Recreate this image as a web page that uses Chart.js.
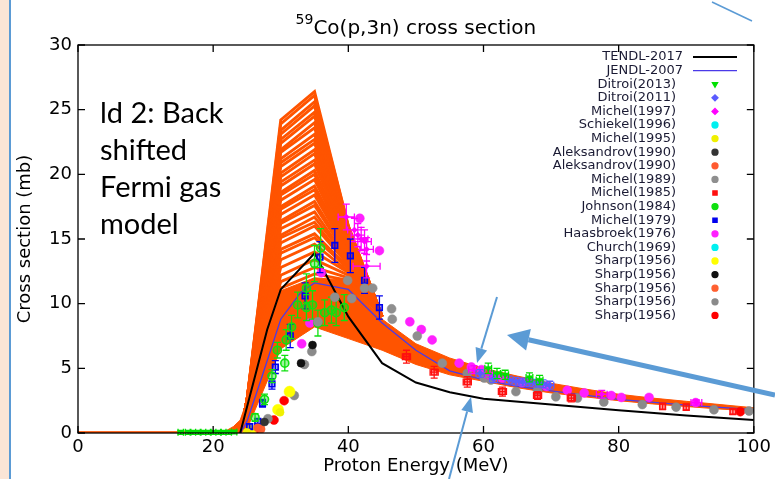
<!DOCTYPE html>
<html>
<head>
<meta charset="utf-8">
<script src="https://cdn.jsdelivr.net/npm/chart.js@4.4.1/dist/chart.umd.min.js"></script>
<style>
html, body { margin: 0; padding: 0; background: #fff; }
#chart-co { display: block; }
</style>
</head>
<body>
<canvas id="chart-co" width="775" height="479"></canvas>
<script>
// Colors -------------------------------------
const color_model = '#ff5400'
const color_tendl = '#000000'
const color_jendl = '#4a3ae8'
const color_arrow = '#5b9bd5'
const color_strip = '#fbe5d6'
const font_axis = '"DejaVu Sans", sans-serif'

// Model band (ld 2 variations) -------------------------------------
// energies (MeV) and lower / upper edge of the dense part (mb)
const energyGrid = [0, 20, 22, 23, 24, 25, 30, 35, 40, 45, 50, 55, 60, 65, 70, 75, 80, 85, 90, 95, 100]
const bandLow = [0, 0, 0, 0, 0, 0.3, 6.5, 8.2, 7.3, 6.4, 5.3, 4.5, 4.0, 3.5, 3.1, 2.8, 2.5, 2.25, 2.05, 1.85, 1.7]
const bandHigh = [0.1, 0.1, 0.2, 0.5, 1.0, 2.5, 11.0, 12.0, 11.8, 8.8, 6.9, 5.8, 5.0, 4.4, 3.85, 3.4, 3.0, 2.7, 2.45, 2.2, 1.95]

// single runs that stick out of the band around the peak
const spikeHead = [[24, 0], [25, 2.5]]
const spikeTail = [[45, 9.0]]
const spikeAt30 = [11.2, 11.7, 12.2, 12.8, 13.4, 13.9, 14.2, 14.7, 15.1, 15.3, 15.8, 16.2, 16.4, 16.9, 17.3, 17.5, 18.0, 18.4, 18.6, 19.1, 19.4, 19.8, 20.1, 20.6, 20.9, 21.2, 21.7, 21.9, 22.4, 22.7, 23.1, 23.4, 23.9, 24.2]
const spikeAt35 = [12.3, 12.8, 13.4, 14.0, 14.6, 15.1, 15.4, 16.0, 16.3, 16.7, 17.1, 17.6, 17.9, 18.4, 18.8, 19.1, 19.6, 20.0, 20.3, 20.8, 21.1, 21.6, 21.9, 22.4, 22.7, 23.1, 23.6, 24.0, 24.5, 24.8, 25.3, 25.6, 26.1, 26.4]
const spikeAt40 = [11.8, 12.0, 12.2, 12.4, 12.5, 12.7, 12.8, 13.0, 13.1, 13.3, 13.4, 13.6, 13.7, 13.9, 14.0, 14.2, 14.3, 14.5, 14.6, 14.8, 14.9, 15.0, 15.2, 15.3, 15.4, 15.5, 15.6, 15.7, 15.8, 15.85, 15.9, 15.95, 16.0, 16.0]

// Evaluated libraries -------------------------------------
const tendlE = [24, 28, 30, 35, 40, 45, 50, 55, 60, 70, 80, 90, 100]
const tendlXS = [0, 8.0, 11.1, 13.9, 9.0, 5.4, 3.9, 3.15, 2.65, 2.2, 1.75, 1.35, 1.0]
const jendlE = [24, 25, 27, 30, 33, 35, 40, 45, 50, 55, 60, 65, 70, 80, 90, 100]
const jendlXS = [0, 0.9, 4.0, 8.8, 10.9, 11.6, 11.1, 8.5, 6.4, 4.8, 4.1, 3.6, 3.25, 2.6, 2.15, 1.8]

// Measurements: [E (MeV), sigma (mb), d sigma, d E] -------------------------------------
const ditroi2013 = [[15.2, 0.05, 0.15, 0.4], [16.3, 0.05, 0.15, 0.4], [17.0, 0.05, 0.15, 0.4], [17.8, 0.05, 0.15, 0.4],
    [18.5, 0.05, 0.15, 0.4], [19.3, 0.05, 0.15, 0.4], [20.0, 0.05, 0.15, 0.4], [20.8, 0.05, 0.15, 0.4],
    [21.5, 0.05, 0.15, 0.4], [22.3, 0.05, 0.15, 0.4], [23.1, 0.08, 0.15, 0.4],
    [60.7, 5.0, 0.4, 0.5], [62.0, 4.6, 0.4, 0.5], [63.2, 4.5, 0.35, 0.5], [66.8, 4.3, 0.35, 0.5], [68.3, 4.1, 0.35, 0.5]]
const ditroi2011 = [[59.5, 4.6, 0.3, 0.6], [61.5, 4.2, 0.3, 0.6], [63.8, 4.1, 0.3, 0.6], [64.8, 4.0, 0.3, 0.6],
    [65.8, 3.95, 0.3, 0.6], [66.8, 3.9, 0.3, 0.6], [67.8, 3.85, 0.3, 0.6], [68.8, 3.8, 0.3, 0.6], [69.8, 3.7, 0.3, 0.6]]
const michel1997 = [[39.7, 16.7, 1.0, 1.2], [40.9, 15.7, 0.9, 1.0], [41.4, 15.3, 0.9, 1.0], [41.9, 15.0, 0.9, 1.0],
    [42.4, 14.8, 0.9, 1.0], [42.7, 14.2, 0.9, 1.0], [42.7, 12.9, 0.9, 2.0],
    [58.6, 4.9, 0.3, 0.8], [61.0, 4.5, 0.3, 0.8], [77.5, 3.0, 0.3, 0.8], [91.5, 2.35, 0.2, 0.8]]
const schiekel1996 = []
const michel1995 = [[25.0, 0.05], [29.9, 1.6]]
const aleksandrov1990a = [[27.6, 0.85]]
const aleksandrov1990b = [[26.6, 0.4]]
const michel1989 = [[35.5, 8.6], [38.0, 10.5], [39.9, 11.8], [40.5, 10.4], [42.4, 11.2], [43.6, 11.2],
    [46.4, 9.6], [46.5, 8.8], [50.2, 7.5], [53.9, 5.4]]
const michel1985 = [[48.6, 5.9, 0.5, 0.6], [52.7, 4.7, 0.45, 0.6], [57.6, 3.95, 0.4, 0.6], [62.8, 3.2, 0.35, 0.6],
    [68.0, 2.9, 0.3, 0.6], [73.0, 2.7, 0.3, 0.6], [86.5, 2.05, 0.25, 0], [90.0, 2.0, 0.25, 0], [96.9, 1.65, 0.2, 0]]
const johnson1984 = [[26.2, 1.2, 0.3], [27.6, 2.6, 0.4], [28.7, 4.4, 0.5], [29.5, 6.4, 0.6], [30.6, 5.4, 0.6],
    [30.8, 7.2, 0.8], [31.6, 8.2, 0.9], [32.5, 9.9, 1.0], [33.8, 9.7, 1.0], [33.8, 11.2, 1.1], [34.7, 9.9, 1.1],
    [35.0, 13.1, 1.4], [35.5, 8.5, 1.0], [35.9, 14.3, 1.5], [36.5, 9.3, 1.0], [37.5, 9.5, 1.0], [38.2, 9.3, 1.0], [39.4, 9.7, 1.0]]
const michel1979 = [[25.4, 0.5, 0.2], [26.6, 0.9, 0.2], [27.3, 2.3, 0.3], [28.7, 3.8, 0.4], [29.2, 5.1, 0.5],
    [31.4, 7.5, 0.9], [33.6, 10.6, 1.0], [35.8, 13.6, 1.2], [38.0, 14.5, 1.3], [40.3, 13.7, 1.3], [42.4, 11.8, 1.0], [44.6, 9.7, 0.9]]
const haasbroek1976 = [[33.1, 6.9], [34.3, 8.5], [36.0, 12.4], [41.7, 16.6], [44.6, 14.1], [49.1, 8.6], [50.8, 8.0],
    [52.4, 7.2], [56.4, 5.4], [58.2, 5.1], [59.7, 4.9], [61.6, 4.4], [62.8, 4.25], [65.7, 3.9], [69.3, 3.6],
    [72.4, 3.3], [74.9, 3.1], [78.9, 2.9], [80.4, 2.75], [84.5, 2.75], [91.4, 2.35]]
const church1969 = []
const sharpYellow = [[25.6, 0.2], [29.6, 1.8], [31.3, 3.2]]
const sharpBlack = [[29.6, 1.8], [31.3, 3.2], [33.0, 5.4], [34.7, 6.8]]
const sharpOrange = [[27.1, 0.3]]
const sharpGray = [[28.1, 1.1], [32.0, 2.9], [33.5, 5.3], [34.6, 6.3], [57.6, 4.6], [60.1, 4.25], [61.1, 4.1],
    [64.8, 3.2], [68.0, 3.3], [70.7, 2.8], [73.9, 2.7], [77.8, 2.4], [83.5, 2.2], [88.5, 2.0], [94.1, 1.8], [99.3, 1.7]]
const sharpRed = [[25.5, 0.1], [26.6, 0.35], [29.0, 1.0], [30.5, 2.5], [98.0, 1.65]]

// Helpers -------------------------------------
function pairs(xs, ys) {
    return xs.map((x, i) => ({x: x, y: ys[i]}))
}

function rows(list) {
    return list.map(r => ({x: r[0], y: r[1], dy: r[2] || 0, dx: r[3] || 0}))
}

function lineSet(label, data, color, width, order) {
    return {
        label: label, data: data, showLine: true, borderColor: color, backgroundColor: color,
        borderWidth: width, pointRadius: 0, tension: 0, fill: false, order: order, inLegend: !!label,
    }
}

// legend order: label, rows, color, point style, radius, rotation, error bars
const experiments = [
    ['Ditroi(2013)', ditroi2013, '#00e000', 'triangle', 3.5, 180, true],
    ['Ditroi(2011)', ditroi2011, '#5b5bff', 'rectRot', 3.5, 0, true],
    ['Michel(1997)', michel1997, '#ff00ff', 'rectRot', 3, 0, true],
    ['Schiekel(1996)', schiekel1996, '#00f0f0', 'circle', 4, 0, false],
    ['Michel(1995)', michel1995, '#f0f000', 'circle', 4, 0, false],
    ['Aleksandrov(1990)', aleksandrov1990a, '#333333', 'circle', 4, 0, false],
    ['Aleksandrov(1990)', aleksandrov1990b, '#ff5a30', 'circle', 4, 0, false],
    ['Michel(1989)', michel1989, '#8f8f8f', 'circle', 4.5, 0, false],
    ['Michel(1985)', michel1985, '#ff1010', 'rect', 4, 0, true],
    ['Johnson(1984)', johnson1984, '#10e010', 'circle', 4, 0, true],
    ['Michel(1979)', michel1979, '#0000ee', 'rect', 4, 0, true],
    ['Haasbroek(1976)', haasbroek1976, '#ff20ff', 'circle', 4.5, 0, false],
    ['Church(1969)', church1969, '#00f0f0', 'circle', 4, 0, false],
    ['Sharp(1956)', sharpYellow, '#ffff00', 'circle', 5.5, 0, false],
    ['Sharp(1956)', sharpBlack, '#111111', 'circle', 4, 0, false],
    ['Sharp(1956)', sharpOrange, '#ff6030', 'circle', 4, 0, false],
    ['Sharp(1956)', sharpGray, '#8a8a8a', 'circle', 4.5, 0, false],
    ['Sharp(1956)', sharpRed, '#ff0000', 'circle', 4.5, 0, false],
]

// Datasets -------------------------------------
const datasets = []
datasets.push(lineSet('TENDL-2017', pairs(tendlE, tendlXS), color_tendl, 2, 1))
datasets.push(lineSet('JENDL-2007', pairs(jendlE, jendlXS), color_jendl, 1.3, 1))

experiments.forEach(e => {
    const open = e[3] == 'rect' || e[1] == johnson1984
    datasets.push({
        label: e[0], data: rows(e[1]), showLine: false,
        pointStyle: e[3], pointRadius: e[4], rotation: e[5],
        borderColor: e[2], backgroundColor: open ? e[2] + '66' : e[2],
        borderWidth: open ? 1.6 : 0.5, errorBars: e[6], order: 0, inLegend: true,
    })
})

// band: lower edge, then upper edge filled down to it
const lowIndex = datasets.length
datasets.push(lineSet('', pairs(energyGrid, bandLow), color_model, 1, 3))
const upper = lineSet('', pairs(energyGrid, bandHigh), color_model, 1, 3)
upper.fill = lowIndex
datasets.push(upper)

spikeAt30.forEach((v, i) => {
    const pts = spikeHead.concat([[30, v], [35, spikeAt35[i]], [40, spikeAt40[i]]], spikeTail)
    datasets.push(lineSet('', pts.map(p => ({x: p[0], y: p[1]})), color_model, 2.9, 2))
})

// Plugins -------------------------------------
const backdrop = {
    id: 'backdrop',
    beforeDraw(chart) {
        const ctx = chart.ctx
        ctx.save()
        ctx.fillStyle = '#ffffff'
        ctx.fillRect(0, 0, chart.width, chart.height)
        ctx.fillStyle = color_strip
        ctx.fillRect(0, 0, 9, chart.height)
        ctx.fillStyle = color_arrow
        ctx.fillRect(9, 0, 2, chart.height)
        ctx.restore()
    }
}

// vertical / horizontal error bars with caps, under the markers
const errorBars = {
    id: 'errorBars',
    beforeDatasetDraw(chart, args) {
        const ds = chart.data.datasets[args.index]
        if (!ds.errorBars) return
        const ctx = chart.ctx
        const sx = chart.scales.x, sy = chart.scales.y
        const cap = 3.5
        ctx.save()
        ctx.strokeStyle = ds.borderColor
        ctx.lineWidth = 1.3
        ctx.beginPath()
        ds.data.forEach(p => {
            const px = sx.getPixelForValue(p.x), py = sy.getPixelForValue(p.y)
            if (p.dy) {
                const t = sy.getPixelForValue(p.y + p.dy), b = sy.getPixelForValue(p.y - p.dy)
                ctx.moveTo(px, t); ctx.lineTo(px, b)
                ctx.moveTo(px - cap, t); ctx.lineTo(px + cap, t)
                ctx.moveTo(px - cap, b); ctx.lineTo(px + cap, b)
            }
            if (p.dx) {
                const l = sx.getPixelForValue(p.x - p.dx), r = sx.getPixelForValue(p.x + p.dx)
                ctx.moveTo(l, py); ctx.lineTo(r, py)
                ctx.moveTo(l, py - cap); ctx.lineTo(l, py + cap)
                ctx.moveTo(r, py - cap); ctx.lineTo(r, py + cap)
            }
        })
        ctx.stroke()
        ctx.restore()
    }
}

// frame with inward ticks on all four sides
const frameTicks = {
    id: 'frameTicks',
    afterDatasetsDraw(chart) {
        const ctx = chart.ctx, a = chart.chartArea
        const sx = chart.scales.x, sy = chart.scales.y
        const len = 7
        ctx.save()
        ctx.strokeStyle = '#000'
        ctx.lineWidth = 1.3
        ctx.strokeRect(a.left, a.top, a.right - a.left, a.bottom - a.top)
        ctx.beginPath()
        sx.ticks.forEach(t => {
            const px = sx.getPixelForValue(t.value)
            ctx.moveTo(px, a.bottom); ctx.lineTo(px, a.bottom - len)
            ctx.moveTo(px, a.top); ctx.lineTo(px, a.top + len)
        })
        sy.ticks.forEach(t => {
            const py = sy.getPixelForValue(t.value)
            ctx.moveTo(a.left, py); ctx.lineTo(a.left + len, py)
            ctx.moveTo(a.right, py); ctx.lineTo(a.right - len, py)
        })
        ctx.stroke()
        ctx.restore()
    }
}

function arrow(ctx, x1, y1, x2, y2, width, headLen, headHalf) {
    const ang = Math.atan2(y2 - y1, x2 - x1)
    const bx = x2 - Math.cos(ang) * headLen, by = y2 - Math.sin(ang) * headLen
    ctx.lineWidth = width
    ctx.beginPath()
    ctx.moveTo(x1, y1)
    ctx.lineTo(bx, by)
    ctx.stroke()
    if (headLen > 0) {
        ctx.beginPath()
        ctx.moveTo(x2, y2)
        ctx.lineTo(bx + Math.sin(ang) * headHalf, by - Math.cos(ang) * headHalf)
        ctx.lineTo(bx - Math.sin(ang) * headHalf, by + Math.cos(ang) * headHalf)
        ctx.closePath()
        ctx.fill()
    }
}

// titles, key, note and callout arrows
const annotations = {
    id: 'annotations',
    afterDraw(chart) {
        const ctx = chart.ctx, a = chart.chartArea
        const cx = (a.left + a.right) / 2
        ctx.save()
        ctx.fillStyle = '#000'

        // title with the mass number as superscript
        ctx.font = '14px ' + font_axis
        const sup = '59'
        const wSup = ctx.measureText(sup).width
        ctx.font = '20px ' + font_axis
        const main = 'Co(p,3n) cross section'
        const wMain = ctx.measureText(main).width
        const x0 = cx - (wSup + wMain) / 2
        ctx.textAlign = 'left'
        ctx.textBaseline = 'alphabetic'
        ctx.fillText(main, x0 + wSup, 34)
        ctx.font = '14px ' + font_axis
        ctx.fillText(sup, x0, 24)

        // axis titles
        ctx.font = '18px ' + font_axis
        ctx.textAlign = 'center'
        ctx.textBaseline = 'middle'
        ctx.fillText('Proton Energy (MeV)', cx, 466)
        ctx.save()
        ctx.translate(25, (a.top + a.bottom) / 2)
        ctx.rotate(-Math.PI / 2)
        ctx.fillText('Cross section (mb)', 0, 0)
        ctx.restore()

        // key
        let row = 0
        ctx.font = '13px ' + font_axis
        ctx.textAlign = 'right'
        chart.data.datasets.forEach(ds => {
            if (!ds.inLegend) return
            const yy = 57 + row * 13.6
            ctx.fillStyle = '#1a1a33'
            if (ds.showLine) {
                ctx.fillText(ds.label, 683, yy)
                ctx.strokeStyle = ds.borderColor
                ctx.lineWidth = ds.borderWidth
                ctx.beginPath()
                ctx.moveTo(693, yy)
                ctx.lineTo(737, yy)
                ctx.stroke()
            } else {
                ctx.fillText(ds.label, 676, yy)
                ctx.fillStyle = ds.borderColor
                ctx.strokeStyle = ds.borderColor
                Chart.helpers.drawPoint(ctx, {
                    pointStyle: ds.pointStyle, radius: 3, rotation: ds.rotation, borderWidth: 0.5,
                }, 715, yy)
            }
            row++
        })

        // model note
        ctx.fillStyle = '#000'
        ctx.font = '29px Lato, sans-serif'
        ctx.textAlign = 'left'
        ctx.textBaseline = 'alphabetic'
        const note = ['ld 2: Back', 'shifted', 'Fermi gas', 'model']
        note.forEach((t, i) => ctx.fillText(t, 100, 123 + i * 37))

        // callout arrows
        ctx.strokeStyle = color_arrow
        ctx.fillStyle = color_arrow
        ctx.lineCap = 'butt'
        arrow(ctx, 712, 2, 752, 21, 1.5, 0, 0)
        arrow(ctx, 497, 297, 477, 363, 2, 15, 6)
        arrow(ctx, 449, 479, 471, 397, 2, 15, 6)
        arrow(ctx, 775, 395, 507, 335, 5, 22, 11)
        ctx.restore()
    }
}

// Chart -------------------------------------
const config = {
    type: 'scatter',
    data: {datasets: datasets},
    options: {
        responsive: false,
        animation: false,
        devicePixelRatio: 1,
        layout: {padding: {top: 45, right: 20, left: 0, bottom: 0}},
        plugins: {
            legend: {display: false},
            tooltip: {enabled: false},
        },
        scales: {
            x: {
                type: 'linear', min: 0, max: 100,
                afterFit: s => { s.height = 46 },
                grid: {display: false, drawTicks: false},
                border: {display: false},
                ticks: {stepSize: 20, color: '#000', padding: 4, maxRotation: 0,
                    font: {family: font_axis, size: 18}},
            },
            y: {
                type: 'linear', min: 0, max: 30,
                afterFit: s => { s.width = 78 },
                grid: {display: false, drawTicks: false},
                border: {display: false},
                ticks: {stepSize: 5, color: '#000', padding: 6,
                    font: {family: font_axis, size: 18}},
            },
        },
    },
    plugins: [backdrop, errorBars, frameTicks, annotations],
}

const chart = new Chart(document.getElementById('chart-co').getContext('2d'), config)
</script>
</body>
</html>
